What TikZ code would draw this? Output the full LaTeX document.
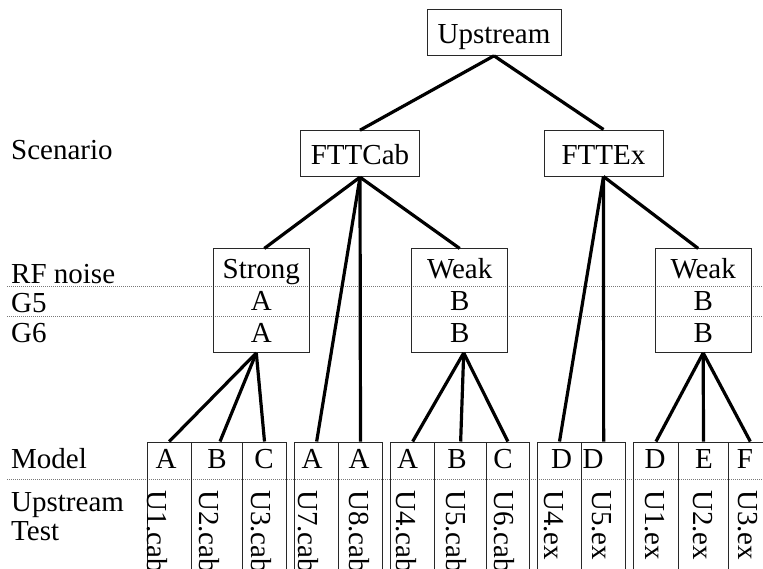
\documentclass[tikz,border=0pt]{standalone}
\usepackage{fontspec}
\setmainfont{Liberation Serif}
\definecolor{rulegray}{RGB}{120,120,120}
\definecolor{boxgray}{RGB}{40,40,40}
\tikzset{
  headbox/.style={draw=boxgray, line width=1pt, inner sep=0pt, text height=34pt, text depth=12pt, minimum width=119pt},
  noisebox/.style={draw=boxgray, line width=1pt, inner sep=0pt, align=center, minimum width=96pt, minimum height=103.5pt, font=\fontsize{29}{32}\selectfont},
  cell/.style={draw=boxgray, line width=1pt, inner sep=0pt, anchor=north west, minimum height=160pt},
  rowlabel/.style={anchor=base west, inner sep=0pt},
  modlabel/.style={anchor=base, inner sep=0pt},
  testlabel/.style={rotate=-90, anchor=west, inner sep=0pt},
  link/.style={line width=3.2pt},
  rowrule/.style={rulegray, line width=0.8pt, dash pattern=on 1pt off 1pt}
}
\begin{document}
\begin{tikzpicture}[x=1pt, y=-1pt, font=\fontsize{29}{32}\selectfont]
            \useasboundingbox (0,0) rectangle (763,568);
            \clip (0,0) rectangle (763,568);
            % dotted row rules
            \draw[rowrule] (7,286.5) -- (763,286.5);
            \draw[rowrule] (7,316)   -- (763,316);
            \draw[rowrule] (7,479)   -- (763,479);
            % row labels
            \node[rowlabel] (lscen)  at (11,159.5) {Scenario};
            \node[rowlabel] (lrf)    at (11,283)   {RF noise};
            \node[rowlabel] (lg5)    at (11,312)   {G5};
            \node[rowlabel] (lg6)    at (11,342)   {G6};
            \node[rowlabel] (lmodel) at (11,468.3) {Model};
            \node[anchor=west, inner sep=0pt, align=left, font=\fontsize{29}{28.5}\selectfont] (ltest) at (11,516.4) {Upstream\\Test};
            % tree boxes
            \node[headbox, minimum width=134pt] (upstream) at (494,32.3)  {Upstream};
            \node[headbox]                      (fttcab)   at (360,153.7) {FTTCab};
            \node[headbox]                      (fttex)    at (603.5,153) {FTTEx};
            \node[noisebox] (strong)  at (261.3,300.7) {Strong\\A\\A};
            \node[noisebox] (weakcab) at (459.7,300.7) {Weak\\B\\B};
            \node[noisebox] (weakex)  at (703.2,300.7) {Weak\\B\\B};
            % leaf cells
            \node[cell, minimum width=44pt]   (u1cab) at (146.7,441.5) {};
            \node[cell, minimum width=51.6pt] (u2cab) at (190.7,441.5) {};
            \node[cell, minimum width=43.4pt] (u3cab) at (242.3,441.5) {};
            \node[cell, minimum width=44.3pt] (u7cab) at (294,441.5)   {};
            \node[cell, minimum width=43.4pt] (u8cab) at (338.3,441.5) {};
            \node[cell, minimum width=44.3pt] (u4cab) at (390,441.5)   {};
            \node[cell, minimum width=51.7pt] (u5cab) at (434.3,441.5) {};
            \node[cell, minimum width=42.7pt] (u6cab) at (486,441.5)   {};
            \node[cell, minimum width=44.6pt] (u4ex)  at (536.7,441.5) {};
            \node[cell, minimum width=43.7pt] (u5ex)  at (581.3,441.5) {};
            \node[cell, minimum width=44.4pt] (u1ex)  at (633.3,441.5) {};
            \node[cell, minimum width=50.6pt] (u2ex)  at (677.7,441.5) {};
            \node[cell, minimum width=43pt]   (u3ex)  at (728.3,441.5) {};
            % model row
            \node[modlabel] (m1)  at (166,468.3)   {A};
            \node[modlabel] (m2)  at (217,468.3)   {B};
            \node[modlabel] (m3)  at (264,468.3)   {C};
            \node[modlabel] (m4)  at (312,468.3)   {A};
            \node[modlabel] (m5)  at (359,468.3)   {A};
            \node[modlabel] (m6)  at (407.5,468.3) {A};
            \node[modlabel] (m7)  at (457,468.3)   {B};
            \node[modlabel] (m8)  at (503,468.3)   {C};
            \node[modlabel] (m9)  at (561.7,468.3) {D};
            \node[modlabel] (m10) at (593,468.3)   {D};
            \node[modlabel] (m11) at (655,468.3)   {D};
            \node[modlabel] (m12) at (704,468.3)   {E};
            \node[modlabel] (m13) at (745,468.3)   {F};
            % test row
            \node[testlabel] (t1)  at (157.5,490) {U1.cab};
            \node[testlabel] (t2)  at (209,490)   {U2.cab};
            \node[testlabel] (t3)  at (261,490)   {U3.cab};
            \node[testlabel] (t4)  at (308,490)   {U7.cab};
            \node[testlabel] (t5)  at (359,490)   {U8.cab};
            \node[testlabel] (t6)  at (406,490)   {U4.cab};
            \node[testlabel] (t7)  at (456.7,490) {U5.cab};
            \node[testlabel] (t8)  at (504,490)   {U6.cab};
            \node[testlabel] (t9)  at (554,490)   {U4.ex};
            \node[testlabel] (t10) at (601.7,490) {U5.ex};
            \node[testlabel] (t11) at (655,490)   {U1.ex};
            \node[testlabel] (t12) at (703,490)   {U2.ex};
            \node[testlabel] (t13) at (748,490)   {U3.ex};
            % connectors
            \draw[link] (upstream.south) -- (fttcab.north);
            \draw[link] (upstream.south) -- (fttex.north);
            \draw[link] (fttcab.south) -- ([xshift=3pt]strong.north);
            \draw[link] (fttcab.south) -- (weakcab.north);
            \draw[link] (fttcab.south) -- (u7cab.north);
            \draw[link] (fttcab.south) -- (u8cab.north);
            \draw[link] (fttex.south) -- ([xshift=-5pt]weakex.north);
            \draw[link] (fttex.south) -- (u4ex.north);
            \draw[link] (fttex.south) -- (u5ex.north);
            \draw[link] ([xshift=-5pt]strong.south) -- (u1cab.north);
            \draw[link] ([xshift=-5pt]strong.south) -- ([xshift=3pt]u2cab.north);
            \draw[link] ([xshift=-5pt]strong.south) -- (u3cab.north);
            \draw[link] ([xshift=4pt]weakcab.south) -- (u4cab.north);
            \draw[link] ([xshift=4pt]weakcab.south) -- (u5cab.north);
            \draw[link] ([xshift=4pt]weakcab.south) -- (u6cab.north);
            \draw[link] (weakex.south) -- (u1ex.north);
            \draw[link] (weakex.south) -- (u2ex.north);
            \draw[link] (weakex.south) -- (u3ex.north);
\end{tikzpicture}
\end{document}
